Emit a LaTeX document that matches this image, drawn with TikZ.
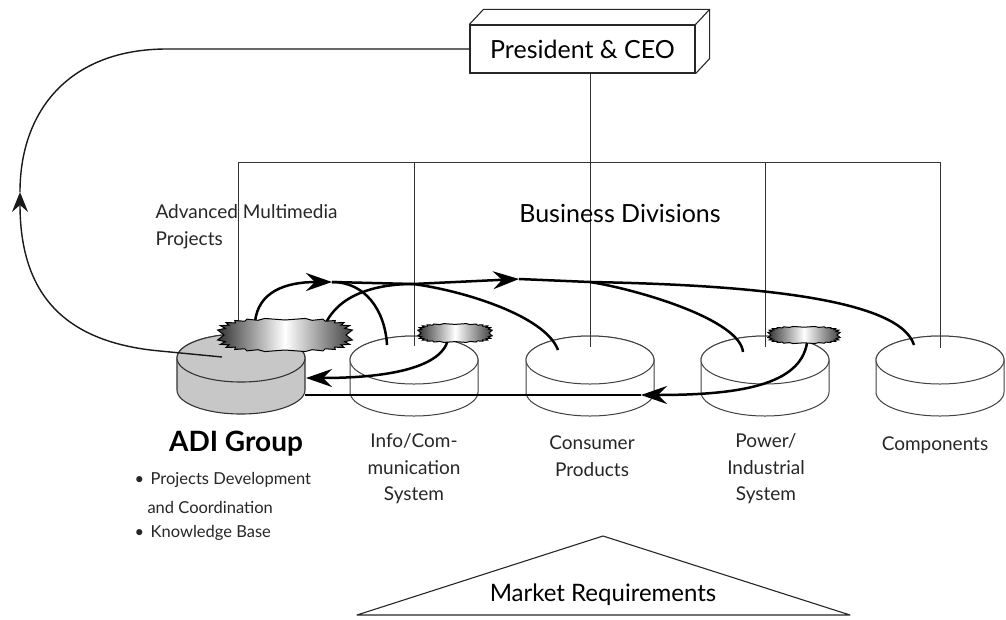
\documentclass[tikz,border=0pt]{standalone}
\usepackage{fontspec}
\setmainfont{Lato}
\usetikzlibrary{arrows.meta,calc}
\newcommand\burstshape[6]{% cx, cy, a, b, step, spike
  \shadedraw[burstsh] plot[domain=0:360-#5, samples={360/#5}, variable=\t]
   ({#1+#3*(1+#6*mod(round(\t/#5),2))*cos(\t)/max(abs(cos(\t)),0.001)*pow(abs(cos(\t))+0.00001,0.6)},
    {#2+#4*(1+#6*mod(round(\t/#5),2))*sin(\t)/max(abs(sin(\t)),0.001)*pow(abs(sin(\t))+0.00001,0.6)}) -- cycle;}
\begin{document}
\begin{tikzpicture}[x=1pt,y=-1pt,
  org/.style={draw=black!80, line width=0.9pt},
  cyl/.style={draw=black!75, line width=1pt, fill=white},
  adicyl/.style={draw=black!80, line width=1.1pt, fill=black!22},
  flow/.style={line width=2.5pt, black},
  loopline/.style={line width=1.4pt, black!90},
  tip/.style={-{Stealth[length=26pt,width=18pt,inset=9pt]}},
  tipsmall/.style={-{Stealth[length=20pt,width=16pt,inset=7pt]}},
  burstsh/.style={draw=black, line width=1pt, line join=miter,
    left color=black!80, right color=black!75, middle color=white},
  lbl/.style={font=\fontsize{19}{26.5}\selectfont, align=center, text=black!85},
  blt/.style={font=\fontsize{16.5}{26.5}\selectfont, text=black!85, anchor=west},
  big/.style={font=\fontsize{25}{30}\selectfont, text=black},
]
\useasboundingbox (0,0) rectangle (1006,619);

% --- cylinders
\coordinate (adi) at (241,358);
\draw[adicyl] (177,358) -- (177,390) arc[start angle=180,end angle=0,x radius=64,y radius=24] -- (305,358) arc[start angle=0,end angle=-180,x radius=64,y radius=24] -- cycle;
\draw[adicyl] (adi) ellipse[x radius=64,y radius=24];
\foreach \nm/\cx in {info/414, cons/590, pow/765, comp/940} {
  \coordinate (\nm) at (\cx,360);
  \draw[cyl] (\cx-64,360) -- (\cx-64,392) arc[start angle=180,end angle=0,x radius=64,y radius=24] -- (\cx+64,360) arc[start angle=0,end angle=-180,x radius=64,y radius=24] -- cycle;
  \draw[cyl] (\cx,360) ellipse[x radius=64,y radius=24];
}

% --- President box
\node[draw=black!85, line width=1.2pt, fill=white, minimum width=225pt, minimum height=48pt, big] (ceo) at (582.5,49) {President \& CEO};
\draw[black!85, line width=1.1pt, line join=round] (ceo.north west) -- ++(14,-15) -- ($(ceo.north east)+(14,-15)$) -- (ceo.north east);
\draw[black!85, line width=1.1pt, line join=round] ($(ceo.north east)+(14,-15)$) -- ($(ceo.south east)+(14,-15)$) -- (ceo.south east);

% --- org chart
\coordinate (hL) at (238,162);
\coordinate (hR) at (940,162);
\draw[org] (hL) -- (hR);
\draw[org] (hL) -- (238,334);
\draw[org] (info |- hL) -- ($(info)+(0,-14)$);
\draw[org] (ceo.south -| cons) -- ($(cons)+(0,-13)$);
\draw[org] (pow |- hL) -- ($(pow)+(0,-13)$);
\draw[org] (hR) -- ($(comp)+(0,-12)$);

% --- flow coordinates
\coordinate (a1) at (255,322);
\coordinate (a2) at (325,325);
\coordinate (t1) at (332,282);
\coordinate (j1) at (413,284);
\coordinate (t2) at (519,279);
\coordinate (j2) at (590,282);
\coordinate (infoIn) at (387,345);
\coordinate (consIn) at (558,350);
\coordinate (powIn) at (743,352);
\coordinate (compIn) at (914,345);
\coordinate (iOut) at (448,340);
\coordinate (adiIn1) at (306,378);
\coordinate (pOut) at (807,343);
\coordinate (t3) at (641,395);
\coordinate (adiIn2) at (305,395);
\coordinate (adiL) at (222,357);
\coordinate (lk) at (160,351);
\coordinate (t4) at (20,192);
\coordinate (lc) at (167,49);

% --- flows out of ADI
\draw[flow,tip] (a1) .. controls (258,292) and (285,282) .. (t1);
\draw[flow] (t1) .. controls (365,282) and (385,310) .. (infoIn);
\draw[flow] (t1) -- (j1);
\draw[flow] (a2) .. controls (338,295) and (375,284) .. (j1);
\draw[flow] (j1) .. controls (460,290) and (545,315) .. (consIn);
\draw[flow,tip] (j1) -- (t2);
\draw[flow] (t2) -- (j2);
\draw[flow] (j2) .. controls (640,290) and (740,320) .. (powIn);
\draw[flow] (j2) .. controls (760,285) and (900,300) .. (compIn);

% --- flows back to ADI
\draw[flow,tip] (iOut) .. controls (440,370) and (380,378) .. (adiIn1);
\draw[flow,tip] (pOut) .. controls (800,385) and (740,395) .. (t3);
\draw[flow] (t3) -- (adiIn2);

% --- loop to President
\draw[loopline,tipsmall] (adiL) -- (lk) .. controls (60,342) and (20,290) .. (t4);
\draw[loopline] (t4) .. controls (20,110) and (70,49) .. (lc) -- (ceo.west);

% --- starbursts
\coordinate (sbA) at (285,335);
\coordinate (sbI) at (455,333);
\coordinate (sbP) at (804,335);
\burstshape{285}{335}{61}{15}{7.5}{0.11}
\burstshape{455}{333}{34}{8.6}{7.5}{0.1}
\burstshape{804}{335}{33}{7.8}{7.5}{0.1}

% --- market triangle
\coordinate (mL) at (357,615);
\coordinate (mT) at (603,536);
\coordinate (mR) at (850,615);
\draw[black!85, line width=1.1pt, line join=round] (mL) -- (mT) -- (mR) -- cycle;
\node[big, font=\fontsize{24}{28}\selectfont] (market) at (603,595) {Market Requirements};

% --- labels
\node[big] (bd) at (620,213) {Business Divisions};
\node[lbl, align=left, anchor=west] (amp) at (152,226.5) {Advanced Multimedia\\Projects};
\node[font=\fontsize{28}{32}\selectfont\bfseries] (adig) at (236,444) {ADI Group};
\node[blt] (b1) at (131,480) {\textbullet\hspace{0.4em}Projects Development};
\node[blt] (b2) at (144,507) {and Coordination};
\node[blt] (b3) at (131,533) {\textbullet\hspace{0.4em}Knowledge Base};
\node[lbl] (infol) at (414,469) {Info/Com-\\munication\\System};
\node[lbl] (consl) at (592,456) {Consumer\\Products};
\node[lbl] (powl) at (766,469) {Power/\\Industrial\\System};
\node[lbl] (compl) at (935,445) {Components};
\end{tikzpicture}
\end{document}
